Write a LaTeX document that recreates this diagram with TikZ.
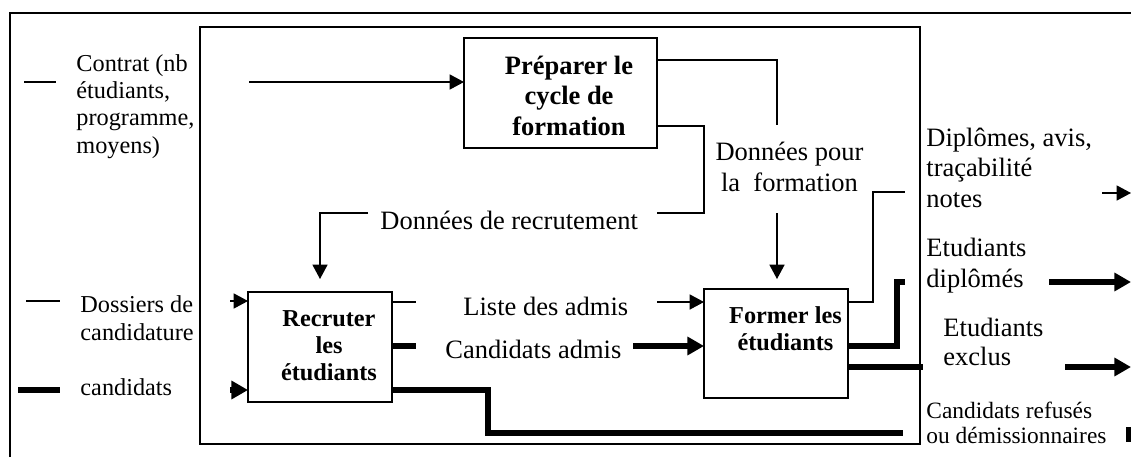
\documentclass[tikz,border=0pt]{standalone}
\usepackage{fontspec}
\setmainfont{Liberation Serif}
\usetikzlibrary{arrows.meta}

\begin{document}
\begin{tikzpicture}[x=0.453pt,y=-0.453pt]
  \tikzset{info/.style={line width=0.6pt},
           flux/.style={line width=2.4pt},
           fleche/.style={-{Triangle[length=6.5pt,width=6.8pt]}},
           grosse fleche/.style={-{Triangle[length=7.5pt,width=8pt]}},
           boite/.style={draw,line width=0.6pt,inner sep=0pt,outer sep=0pt},
           titre/.style={font=\bfseries\fontsize{11}{12.2}\selectfont,align=center,inner sep=0pt,anchor=base},
           texte/.style={font=\fontsize{12}{13.6}\selectfont,align=left,inner sep=0pt,anchor=base west},
           petit/.style={texte,font=\fontsize{11}{12.3}\selectfont}}
  \useasboundingbox (0,0) rectangle (1131,457);
  \draw[info] (10,457) -- (10,13) -- (1131,13);
  \draw[info] (200,27) rectangle (920,444);
  \node[boite,minimum width=87.4pt,minimum height=49.8pt] (prep) at (560.5,93) {};
  \node[boite,minimum width=65.2pt,minimum height=49.8pt] (recr) at (320,347) {};
  \node[boite,minimum width=65.2pt,minimum height=49.4pt] (former) at (776,343.5) {};
  \node[titre,font=\bfseries\fontsize{12}{13.6}\selectfont] (preptxt) at (569,135) {Préparer le\\cycle de\\formation};
  \node[titre] (recrtxt) at (329,380) {Recruter\\les\\étudiants};
  \node[titre] (formtxt) at (785.5,350) {Former les\\étudiants};
  % entrees et sorties
  \node[petit] (contrat) at (76,153) {Contrat (nb\\étudiants,\\programme,\\moyens)};
  \node[petit] (dossiers) at (80,340) {Dossiers de\\candidature};
  \node[petit] (candidats) at (80,395) {candidats};
  \node[texte,align=center,anchor=base] (dpf) at (789.5,191) {Données pour\\la~~formation};
  \node[texte] (ddr) at (380,229) {Données de recrutement};
  \node[texte] (liste) at (463,315) {Liste des admis};
  \node[texte] (admis) at (445,358) {Candidats admis};
  \node[texte] (diplomes) at (926,207) {Diplômes, avis,\\traçabilité\\notes};
  \node[texte] (ediplo) at (926,287) {Etudiants\\diplômés};
  \node[texte,font=\fontsize{12}{12.7}\selectfont] (exclus) at (943,365) {Etudiants\\exclus};
  \node[texte,font=\fontsize{10.6}{11.3}\selectfont] (refuses) at (926,443) {Candidats refusés\\ou démissionnaires};
  \coordinate (contratA) at (249,82);
  \coordinate (dpfH) at (777,125);
  \coordinate (dpfB) at (777,213);
  \coordinate (ddrD) at (657,213);
  \coordinate (ddrG) at (368,213);
  \coordinate (listeG) at (416,302);
  \coordinate (listeD) at (657,302);
  \coordinate (admisG) at (416,346);
  \coordinate (admisD) at (633,346);
  \coordinate (refusC) at (488,433);
  \coordinate (refusF) at (903,433);
  \coordinate (notesG) at (873,192);
  \coordinate (notesF) at (905,192);
  \coordinate (diploG) at (897,282);
  \coordinate (diploF) at (905,282);
  \coordinate (exclusF) at (923,367);
  % legende
  \draw[info] (24,82) -- (56,82);
  \draw[info] (26,301) -- (60,301);
  \draw[flux] (18,390) -- (60,390);
  % flux
  \draw[info,fleche] (contratA) -- (contratA -| prep.west);
  \draw[info] (prep.east) ++(0,-33) -| (dpfH);
  \draw[info,fleche,shorten >=4.5pt] (dpfB) -- (dpfB |- former.north);
  \draw[info] (prep.east) ++(0,33) -| (ddrD -| 704,0) -- (ddrD);
  \draw[info,fleche,shorten >=5.9pt] (ddrG) -| (recr.north);
  \draw[info,fleche] (recr.west) ++(-18,-46) -- ++(18,0);
  \draw[flux,grosse fleche] (recr.west) ++(-18,43) -- ++(18,0);
  \draw[info] (recr.east |- listeG) -- (listeG);
  \draw[info,fleche] (listeD) -- (listeD -| former.west);
  \draw[flux] (recr.east |- admisG) -- (admisG);
  \draw[flux,grosse fleche] (admisD) -- (admisD -| former.west);
  \draw[flux] (recr.east) ++(0,43) -| (refusC) -- (refusF);
  \draw[info] (former.east |- listeD) -| (notesG) -- (notesF);
  \draw[flux] (former.east |- admisD) -| (diploG) -- (diploF);
  \draw[flux] (former.east |- exclusF) -- (exclusF);
  \draw[info,fleche] (1102,193) -- (1131,193);
  \draw[flux,grosse fleche] (1049,282) -- (1131,282);
  \draw[flux,grosse fleche] (1065,367) -- (1131,367);
  \draw[flux] (1129,427) -- (1129,442);
\end{tikzpicture}
\end{document}
